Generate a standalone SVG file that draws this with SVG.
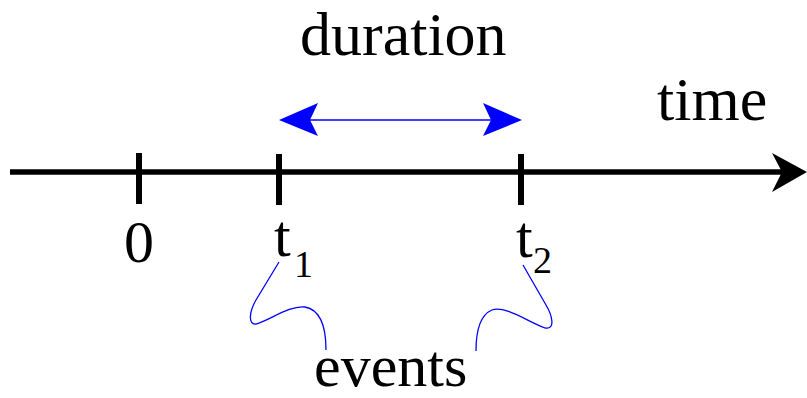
<svg xmlns="http://www.w3.org/2000/svg" width="807" height="398" viewBox="0 0 807 398">
<style>
.tick{stroke:#000;stroke-width:6}
.brace{fill:none;stroke:#0000ff;stroke-width:1.3}
.t{font-family:"Liberation Serif",Tinos,"Times New Roman",Times,"DejaVu Serif","Noto Serif",serif;fill:#000}
</style>
<rect width="807" height="398" fill="#fff"/>
<g id="connectors">
<line x1="10" y1="172" x2="785" y2="172" stroke="#000" stroke-width="5.5"/>
<polygon points="807,172 772,153 782,172 772,192" fill="#000"/>
<line x1="305" y1="120" x2="496" y2="120" stroke="#0000ff" stroke-width="1.6"/>
<polygon points="279,120 318,103 310,120 318,136" fill="#0000ff"/>
<polygon points="522,120 483,103 491,120 483,136" fill="#0000ff"/>
<path class="brace" d="M279,262 L256,300 C249,312 248,325 256,324 C270,320 290,305 305,307 C322,310 326,330 326,350"/>
<path class="brace" d="M523,265 L546,305 C552,315 556,330 545,328 C530,323 505,305 492,310 C480,315 476,330 476,351"/>
</g>
<g id="tick0"><line class="tick" x1="139" y1="153" x2="139" y2="204"/><text class="t" font-size="60" x="139" y="262" text-anchor="middle">0</text></g>
<g id="tick1"><line class="tick" x1="279" y1="154" x2="279" y2="205"/><text class="t" font-size="60" x="274" y="256">t</text><text class="t" font-size="38" x="294" y="277">1</text></g>
<g id="tick2"><line class="tick" x1="521" y1="154" x2="521" y2="205"/><text class="t" font-size="60" x="516" y="257">t</text><text class="t" font-size="38" x="533" y="273">2</text></g>
<g id="duration"><text class="t" font-size="62" x="300" y="55">duration</text></g>
<g id="time"><text class="t" font-size="62" x="657" y="120">time</text></g>
<g id="events"><text class="t" font-size="60" x="314" y="386">events</text></g>
</svg>
